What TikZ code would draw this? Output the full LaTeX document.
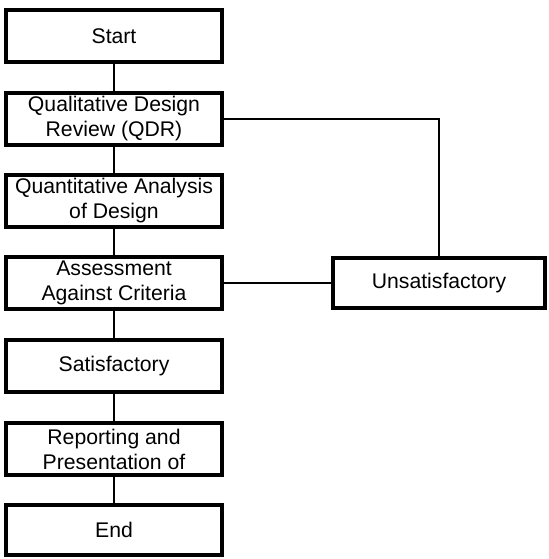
\documentclass[tikz,border=0pt]{standalone}
\usepackage{fontspec}
\setmainfont{Liberation Sans}
\begin{document}
\begin{tikzpicture}[x=0.5pt,y=-0.5pt,
  box/.style={draw,line width=2pt,align=center,inner sep=0pt,
    minimum width=108pt,minimum height=26pt,font=\fontsize{10.6}{12.5}\selectfont},
  link/.style={line width=1pt}]
\useasboundingbox (0,0) rectangle (549,559);
\node[box] (start) at (114,36) {Start};
\node[box] (qdr) at (114,118.5) {Qualitative Design\\Review (QDR)};
\node[box] (quant) at (114,201) {Quantitative Analysis\\of Design};
\node[box] (assess) at (114,283) {Assessment\\Against Criteria};
\node[box] (sat) at (114,366) {Satisfactory};
\node[box] (report) at (114,449) {Reporting and\\Presentation of};
\node[box,minimum height=25pt] (end) at (114,529.5) {End};
\node[box,minimum width=106pt,minimum height=25pt] (unsat) at (439,283) {Unsatisfactory};

\draw[link](start)--(qdr);
\draw[link](qdr)--(quant);
\draw[link](quant)--(assess);
\draw[link](assess)--(sat);
\draw[link](sat)--(report);
\draw[link](report)--(end);
\draw[link](assess.east)--(unsat.west);
\draw[link](qdr.east)-|(unsat.north);
\end{tikzpicture}
\end{document}
